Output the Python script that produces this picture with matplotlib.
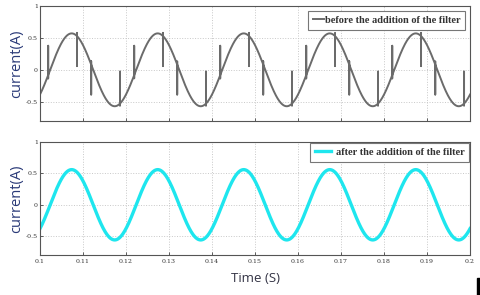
import numpy as np
import matplotlib
matplotlib.use("Agg")
import matplotlib.pyplot as plt
from matplotlib.patches import Rectangle

# ---- data ----
t_start, t_end = 0.10, 0.20
freq_hz = 50.0
amp_before = 0.57
amp_after = 0.56
zero_cross_t = 0.10237          # upward zero crossing time
# spikes in the "before" signal, per period: offset from start of period (s), main excursion, minor excursion
spike_offsets = [0.0019, 0.0086, 0.0119, 0.0186]
spike_main = [0.46, -0.47, -0.47, 0.50]
spike_minor = [-0.05, 0.05, 0.05, -0.03]
period_starts = [0.10, 0.12, 0.14, 0.16, 0.18]

xticks = [0.10, 0.11, 0.12, 0.13, 0.14, 0.15, 0.16, 0.17, 0.18, 0.19, 0.20]
xticklabels = ["0.1", "0.11", "0.12", "0.13", "0.14", "0.15", "0.16", "0.17", "0.18", "0.19", "0.2"]
yticks = [-0.5, 0, 0.5, 1]
yticklabels = ["-0.5", "0", "0.5", "1"]
legend_before = "before the addition of the filter"
legend_after = "after the addition of the filter"

def wave(t, a):
    return a * np.sin(2 * np.pi * freq_hz * (t - zero_cross_t))

t = np.linspace(t_start, t_end, 2001)
y_after = wave(t, amp_after)

spike_t, spike_d, spike_m = [], [], []
for p in period_starts:
    for off, d, m in zip(spike_offsets, spike_main, spike_minor):
        ts = p + off
        if t_start < ts < t_end:
            spike_t.append(ts)
            spike_d.append(d)
            spike_m.append(m)

tb = list(t)
yb = list(wave(t, amp_before))
tt, yy = [], []
si = 0
for ti, yi in zip(tb, yb):
    while si < len(spike_t) and spike_t[si] <= ti:
        base = wave(spike_t[si], amp_before)
        tt += [spike_t[si]] * 4
        yy += [base, base + spike_d[si], base + spike_m[si], base]
        si += 1
    tt.append(ti)
    yy.append(yi)

fig = plt.figure(figsize=(4.8, 2.95), dpi=100)
fig.patch.set_facecolor("white")

ax1 = fig.add_axes([0.0833, 0.59, 0.896, 0.39])
ax2 = fig.add_axes([0.0833, 0.1356, 0.896, 0.383])

ax1.plot(tt, yy, color="#6b6b6b", lw=1.4, label=legend_before)
ax2.plot(t, y_after, color="#1ee6ee", lw=2.4, label=legend_after)

for ax in (ax1, ax2):
    ax.set_xlim(t_start, t_end)
    ax.set_ylim(-0.8, 1.0)
    ax.set_yticks(yticks)
    ax.set_yticklabels(yticklabels, fontsize=4.5, family="DejaVu Serif", color="#333333")
    ax.set_xticks(xticks)
    ax.grid(True, linestyle=":", color="#c8c8c8", linewidth=0.7)
    ax.tick_params(direction="in", length=2.5, width=0.6, color="#444444", pad=1.5)
    for s in ax.spines.values():
        s.set_color("#555555")
        s.set_linewidth(0.8)
    ax.set_ylabel("current(A)", family="Open Sans", fontsize=10.5, color="#2a3a78", labelpad=1)

ax1.set_xticklabels([])
ax2.set_xticklabels(xticklabels, fontsize=4.5, family="DejaVu Serif", color="#333333")
ax2.tick_params(axis="x", pad=3)
ax2.set_xlabel("Time (S)", family="Open Sans", fontsize=9.5, color="#333344", labelpad=6)

leg_prop = {"family": "Liberation Serif", "size": 7.5, "weight": "bold"}
leg1 = ax1.legend(loc="upper right", prop=leg_prop,
                  handlelength=1.0, handletextpad=0.1, borderpad=0.45, borderaxespad=0.5,
                  fancybox=False, framealpha=1, edgecolor="#777777")
leg2 = ax2.legend(loc="upper right", prop=leg_prop,
                  handlelength=1.6, handletextpad=0.4, borderpad=0.45, borderaxespad=0.1,
                  fancybox=False, framealpha=1, edgecolor="#777777")
for leg in (leg1, leg2):
    leg.get_frame().set_linewidth(0.8)
    for txt in leg.get_texts():
        txt.set_color("#333333")

fig.patches.append(Rectangle((477 / 480, 0), 3 / 480, 17 / 295, transform=fig.transFigure,
                             color="black", zorder=10))

fig.savefig("out.png", dpi=100)
